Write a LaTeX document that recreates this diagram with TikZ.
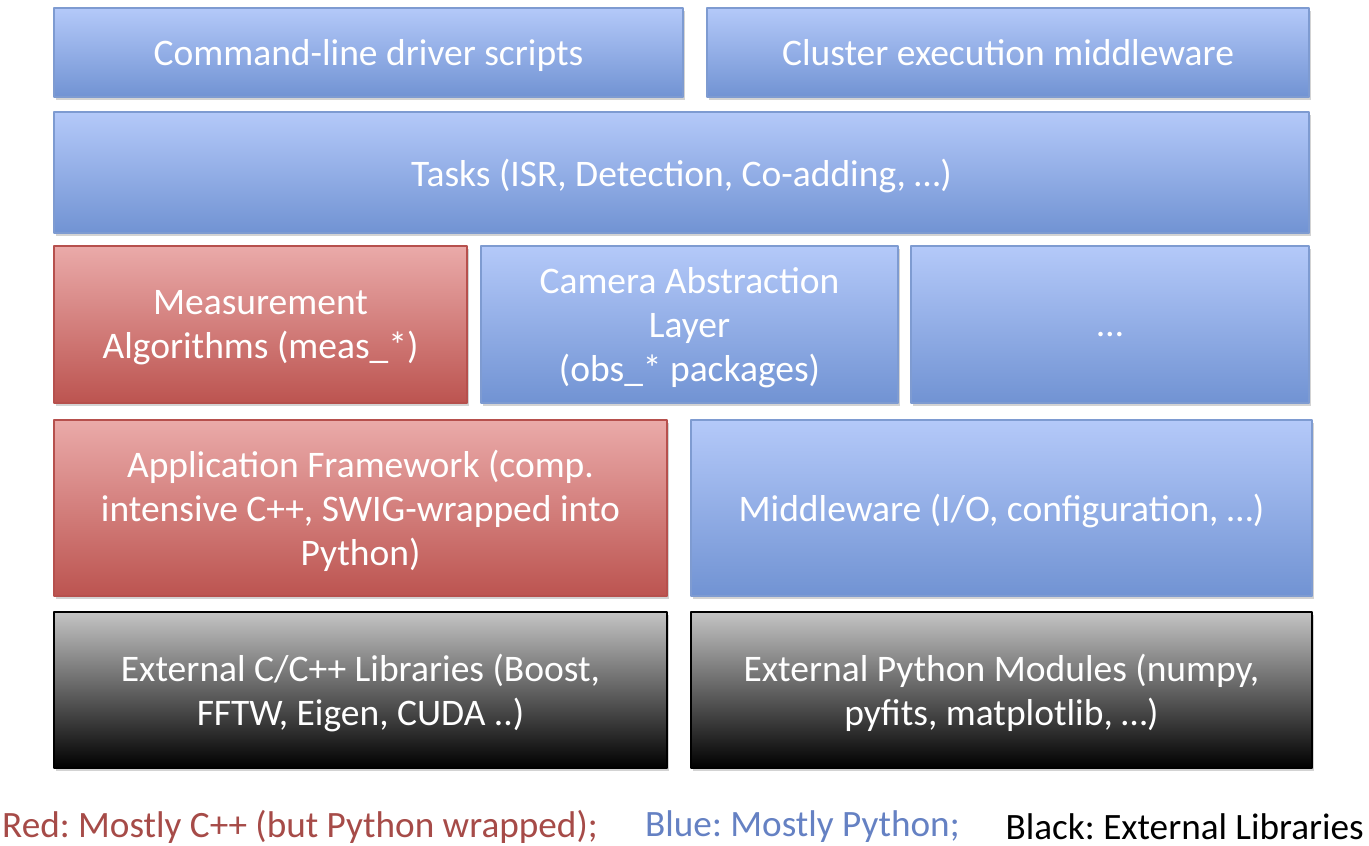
\documentclass[tikz,border=0pt]{standalone}
\usepackage{fontspec}
\setmainfont{Carlito}
\usepackage{tikz}
\usetikzlibrary{shadows}
\frenchspacing

\definecolor{bluetop}{HTML}{B4C9F9}
\definecolor{bluebot}{HTML}{7193D3}
\definecolor{blueline}{HTML}{7E9BD1}
\definecolor{redtop}{HTML}{EAAAA9}
\definecolor{redbot}{HTML}{BC5450}
\definecolor{redline}{HTML}{B6504D}
\definecolor{greytop}{HTML}{C4C4C4}
\definecolor{legendred}{HTML}{A64B48}
\definecolor{legendblue}{HTML}{6581C3}

\begin{document}
\begin{tikzpicture}[line cap=round,line join=round,x=1pt,y=-1pt,
    layer/.style={inner sep=0pt,outer sep=0pt,line width=1.5pt,align=center,
      text=white,font=\fontsize{37.5}{44}\selectfont,text depth=-10pt,
      drop shadow={shadow xshift=1.5pt,shadow yshift=-3pt,opacity=0.35}},
    bluelayer/.style={layer,draw=blueline,top color=bluetop,bottom color=bluebot},
    redlayer/.style={layer,draw=redline,top color=redtop,bottom color=redbot},
    extlayer/.style={layer,draw=black,top color=greytop,bottom color=black},
    legend/.style={inner sep=0pt,font=\fontsize{37.2}{44}\selectfont}]
      \useasboundingbox (0,0) rectangle (1369,846);

      % top row
      \node[bluelayer,minimum width=629pt,minimum height=89pt] (scripts) at (368.5,52.5)
        {Command-line driver scripts};
      \node[bluelayer,minimum width=602pt,minimum height=89pt] (cluster) at (1008,52.5)
        {Cluster execution middleware};

      \node[bluelayer,minimum width=1255pt,minimum height=121pt] (tasks) at (681.5,172.5)
        {Tasks (ISR, Detection, Co-adding, …)};

      % algorithms row
      \node[redlayer,minimum width=413pt,minimum height=157pt] (meas) at (260.5,324.5)
        {Measurement\\Algorithms (meas\_*)};
      \node[bluelayer,minimum width=417pt,minimum height=157pt] (camera) at (689.5,324.5)
        {Camera Abstraction\\Layer\\(obs\_* packages)};
      \node[bluelayer,minimum width=398pt,minimum height=157pt] (more) at (1110,324.5)
        {\vphantom{A}…};

      % framework row
      \node[redlayer,minimum width=613pt,minimum height=176pt] (framework) at (360.5,508)
        {Application Framework (comp.\\intensive C++, SWIG-wrapped into\\Python)};
      \node[bluelayer,minimum width=621pt,minimum height=176pt] (middleware) at (1001.5,508)
        {Middleware (I/O, configuration, …)};

      % external row
      \node[extlayer,minimum width=613pt,minimum height=156pt] (extcpp) at (360.5,690)
        {External C/C++ Libraries (Boost,\\FFTW, Eigen, CUDA ..)};
      \node[extlayer,minimum width=621pt,minimum height=156pt] (extpy) at (1001.5,690)
        {External Python Modules (numpy,\\pyfits, matplotlib, …)};

      % legend
      \node[legend,anchor=west,text=legendred] (legred) at (2,827) {Red: Mostly C++ (but Python wrapped);};
      \node[legend,anchor=west,text=legendblue] (legblue) at (645,827) {Blue: Mostly Python;};
      \node[legend,anchor=east,text=black] (legblack) at (1364,827) {Black: External Libraries};
    \end{tikzpicture}
\end{document}
